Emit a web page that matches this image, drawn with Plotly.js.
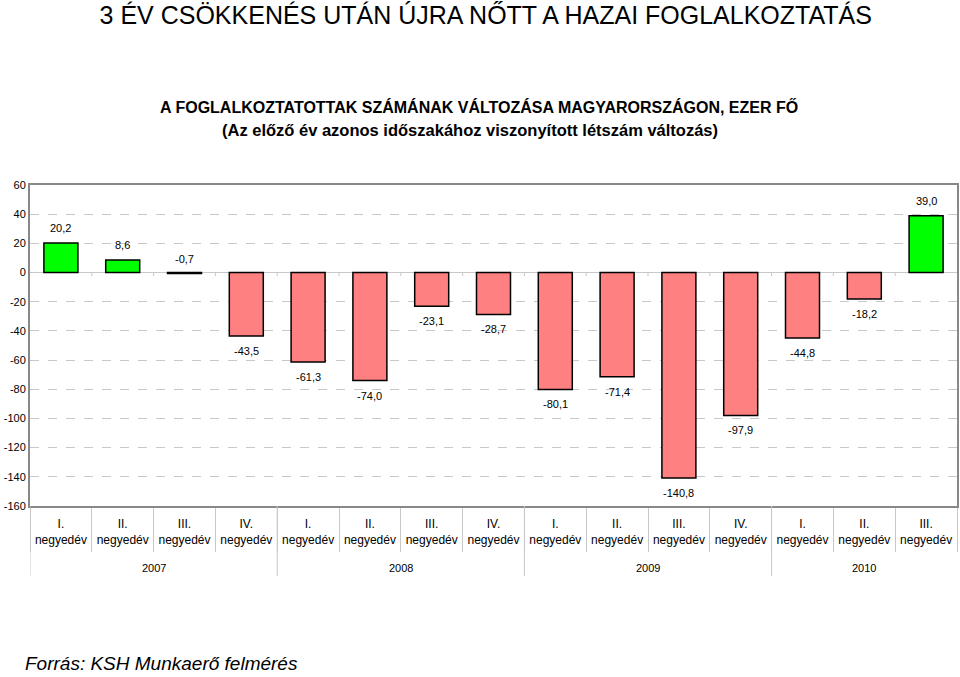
<!DOCTYPE html>
<html>
<head>
<meta charset="utf-8">
<script src="https://cdn.plot.ly/plotly-3.0.1.min.js"></script>
<style>
  html, body { margin: 0; padding: 0; background: #fff; }
  #chart { width: 960px; height: 677px; }
</style>
</head>
<body>
<div id="chart"></div>
<script>
// negyedéves változás az előző év azonos időszakához képest, ezer fő
const years = ["2007", "2007", "2007", "2007", "2008", "2008", "2008", "2008",
  "2009", "2009", "2009", "2009", "2010", "2010", "2010"];
const quarters = ["I.", "II.", "III.", "IV.", "I.", "II.", "III.", "IV.",
  "I.", "II.", "III.", "IV.", "I.", "II.", "III."];
const changes = [20.2, 8.6, -0.7, -43.5, -61.3, -74.0, -23.1, -28.7,
  -80.1, -71.4, -140.8, -97.9, -44.8, -18.2, 39.0];

const yTicks = [60, 40, 20, 0, -20, -40, -60, -80, -100, -120, -140, -160];

const GREEN = "#00ff00";
const PINK = "#ff8080";
const GRID = "#c8c8c8";
const FONT = "Liberation Sans, Arial, sans-serif";

const idx = changes.map((_, i) => i);

const trace = {
  type: "bar",
  x: idx,
  y: changes,
  width: 0.55,
  marker: {
    color: changes.map((v) => (v >= 0 ? GREEN : PINK)),
    line: { color: "#000", width: 1.5 },
  },
  hoverinfo: "y",
  showlegend: false,
};

// értékcímkék: pozitív (és a -0,7) fölé, negatív alá
const valueLabels = changes.map((v, i) => ({
  x: i,
  y: v,
  xref: "x",
  yref: "y",
  text: v.toFixed(1).replace(".", ","),
  showarrow: false,
  yshift: v > -1 ? 15 : -15,
  font: { family: FONT, size: 11, color: "#000" },
}));

// évek csoportjai
const yearGroups = [];
years.forEach((y, i) => {
  const last = yearGroups[yearGroups.length - 1];
  if (last && last.year === y) last.end = i;
  else yearGroups.push({ year: y, start: i, end: i });
});

const yearLabels = yearGroups.map((g) => ({
  x: (g.start + g.end) / 2,
  y: -0.193,
  xref: "x",
  yref: "paper",
  text: g.year,
  showarrow: false,
  yanchor: "middle",
  font: { family: FONT, size: 11, color: "#000" },
}));

const yearDividers = yearGroups.map((g) => ({
  type: "line",
  xref: "x",
  yref: "paper",
  x0: g.start - 0.5,
  x1: g.start - 0.5,
  y0: 0,
  y1: -0.218,
  line: { color: GRID, width: 1 },
}));

// kis osztásjelek a 0 tengelyen
const zeroTicks = idx.slice(1).map((i) => ({
  type: "line",
  xref: "x",
  yref: "y",
  x0: i - 0.5,
  x1: i - 0.5,
  y0: 0,
  y1: -2.5,
  line: { color: GRID, width: 1 },
}));

const layout = {
  width: 960,
  height: 677,
  margin: { l: 30, r: 3, t: 185, b: 171 },
  paper_bgcolor: "#fff",
  plot_bgcolor: "#fff",
  font: { family: FONT, size: 11, color: "#000" },
  title: {
    text: "3 ÉV CSÖKKENÉS UTÁN ÚJRA NŐTT A HAZAI FOGLALKOZTATÁS",
    x: 0.506,
    xref: "container",
    y: 0.978,
    yref: "container",
    yanchor: "middle",
    font: { family: FONT, size: 25, color: "#000" },
  },
  xaxis: {
    range: [-0.5, changes.length - 0.5],
    tickvals: idx,
    ticktext: quarters.map((q) => q + "<br>negyedév"),
    ticks: "",
    ticklabelstandoff: 6,
    showline: true,
    linecolor: "#888",
    linewidth: 2,
    mirror: true,
    showgrid: false,
    zeroline: false,
    minor: {
      tick0: 0.5,
      dtick: 1,
      ticks: "outside",
      ticklen: 44,
      tickcolor: GRID,
      tickwidth: 1,
      showgrid: false,
    },
    tickfont: { family: FONT, size: 12, color: "#000" },
  },
  yaxis: {
    range: [-160, 60],
    tickvals: yTicks,
    ticktext: yTicks.map(String),
    showline: true,
    linecolor: "#888",
    linewidth: 2,
    mirror: true,
    ticks: "",
    showgrid: true,
    gridcolor: GRID,
    griddash: "dash",
    gridwidth: 1,
    zeroline: true,
    zerolinecolor: GRID,
    zerolinewidth: 1,
    tickfont: { family: FONT, size: 11, color: "#000" },
  },
  shapes: [...yearDividers, ...zeroTicks],
  annotations: [
    ...valueLabels,
    ...yearLabels,
    {
      text: "<b>A FOGLALKOZTATOTTAK SZÁMÁNAK VÁLTOZÁSA MAGYARORSZÁGON, EZER FŐ</b>",
      xref: "paper", yref: "paper", x: 0.484, y: 1.243,
      yanchor: "middle",
      showarrow: false,
      font: { family: FONT, size: 16, color: "#000" },
    },
    {
      text: "<b>(Az előző év azonos időszakához viszonyított létszám változás)</b>",
      xref: "paper", yref: "paper", x: 0.475, y: 1.171,
      yanchor: "middle",
      showarrow: false,
      font: { family: FONT, size: 16.5, color: "#000" },
    },
    {
      text: "<i>Forrás: KSH Munkaerő felmérés</i>",
      xref: "paper", yref: "paper", x: -0.008, y: -0.492,
      xanchor: "left",
      yanchor: "middle",
      showarrow: false,
      font: { family: FONT, size: 19, color: "#000" },
    },
  ],
};

Plotly.newPlot("chart", [trace], layout, { displayModeBar: false, staticPlot: true });
</script>
</body>
</html>
